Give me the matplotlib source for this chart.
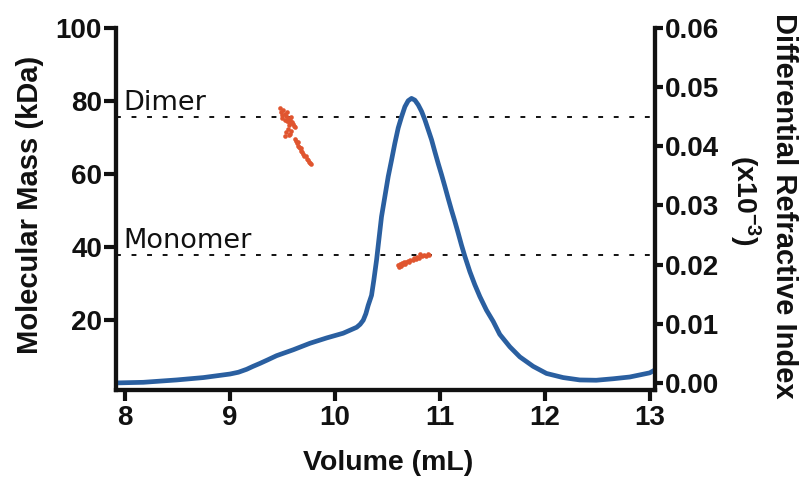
import matplotlib
matplotlib.use("Agg")
import matplotlib.pyplot as plt
from matplotlib.font_manager import FontProperties

# refractive index trace (right axis)
volume = [7.921, 8.174, 8.492, 8.746, 9.000, 9.080, 9.159, 9.220, 9.286, 9.360, 9.444,
          9.603, 9.762, 9.921, 10.079, 10.207, 10.240, 10.270, 10.295, 10.317, 10.349,
          10.371, 10.397, 10.422, 10.444, 10.476, 10.508, 10.540, 10.571, 10.603, 10.635,
          10.667, 10.698, 10.730, 10.762, 10.794, 10.826, 10.857, 10.889, 10.921, 10.952,
          10.984, 11.016, 11.048, 11.079, 11.111, 11.143, 11.175, 11.206, 11.238, 11.286,
          11.333, 11.381, 11.444, 11.508, 11.571, 11.667, 11.762, 11.889, 12.016, 12.175,
          12.333, 12.490, 12.651, 12.810, 12.905, 13.000, 13.080]
dri = [0.0000, 0.0001, 0.0005, 0.0009, 0.0015, 0.0018, 0.0023, 0.0028, 0.0033, 0.0039,
       0.0046, 0.0056, 0.0067, 0.0076, 0.0084, 0.0094, 0.0099, 0.0106, 0.0117, 0.0131,
       0.0148, 0.0174, 0.0208, 0.0247, 0.0281, 0.0315, 0.0349, 0.0377, 0.0405, 0.0431,
       0.0450, 0.0467, 0.0477, 0.0481, 0.0478, 0.0470, 0.0459, 0.0445, 0.0428, 0.0411,
       0.0391, 0.0371, 0.0352, 0.0332, 0.0312, 0.0292, 0.0273, 0.0253, 0.0233, 0.0214,
       0.0188, 0.0166, 0.0146, 0.0123, 0.0104, 0.0082, 0.0061, 0.0044, 0.0028, 0.0016,
       0.0009, 0.0005, 0.00045, 0.0007, 0.0010, 0.00135, 0.0017, 0.0025]

# MALS molecular mass points (left axis)
dimer_vol = [9.48, 9.49, 9.50, 9.50, 9.51, 9.52, 9.52, 9.53, 9.54, 9.54, 9.55, 9.56, 9.56,
             9.57, 9.58, 9.58, 9.59, 9.60, 9.61, 9.62, 9.53, 9.55, 9.57, 9.52, 9.56, 9.58,
             9.62, 9.63, 9.64, 9.65, 9.65, 9.66, 9.67, 9.68, 9.68, 9.69, 9.70, 9.71, 9.72,
             9.73, 9.74, 9.75, 9.76, 9.77]
dimer_mass = [78.0, 77.0, 76.2, 75.3, 77.5, 76.5, 74.8, 75.8, 74.6, 76.9, 75.2, 74.2, 73.4,
              74.8, 73.9, 75.5, 74.2, 73.6, 73.1, 72.8, 71.6, 72.4, 71.0, 70.4, 70.6, 71.8,
              69.7, 69.0, 68.6, 67.8, 68.8, 67.4, 67.0, 66.3, 67.2, 66.0, 65.6, 65.0, 64.8,
              64.2, 63.8, 63.4, 63.0, 62.6]
mono_vol = [10.60, 10.61, 10.62, 10.63, 10.64, 10.65, 10.66, 10.67, 10.68, 10.70, 10.71,
            10.72, 10.74, 10.75, 10.77, 10.78, 10.80, 10.81, 10.83, 10.85, 10.87, 10.89, 10.90]
mono_mass = [35.0, 34.4, 35.3, 34.8, 35.6, 35.2, 35.9, 35.4, 36.0, 36.2, 35.8, 36.5, 36.4,
             36.9, 36.6, 37.2, 37.0, 38.2, 37.4, 37.8, 37.6, 38.1, 37.9]

dimer_ref = 75.6
monomer_ref = 37.8

x_ticks = [8, 9, 10, 11, 12, 13]
left_ticks = [20, 40, 60, 80, 100]
right_ticks = [0.00, 0.01, 0.02, 0.03, 0.04, 0.05, 0.06]

plt.rcParams['mathtext.fontset'] = 'custom'
plt.rcParams['mathtext.bf'] = 'Liberation Sans:bold'
plt.rcParams['mathtext.rm'] = 'Liberation Sans:bold'

bold = dict(family='Liberation Sans', weight='bold')
black = '#111111'
blue = '#2a5fa0'
orange = '#e0552f'

fig = plt.figure(figsize=(8.03, 4.83), dpi=100)
ax = fig.add_axes([116/803, 1 - 390/483, (655-116)/803, (390-28)/483])
ax2 = ax.twinx()

ax.set_xlim(7.914, 13.05)
ax.set_ylim(0.8, 100)
ax2.set_ylim(-0.0012, 0.06)

# reference lines
for val, name, ty in [(dimer_ref, 'Dimer', 79.5), (monomer_ref, 'Monomer', 41.7)]:
    ax.axhline(val, color=black, lw=1.4, ls=(0, (2.5, 5.5)), zorder=1)
    ax.text(7.98, ty, name, family='DejaVu Sans', fontsize=19.5, color=black,
            ha='left', va='center')

ax.scatter(dimer_vol, dimer_mass, s=11, color=orange, zorder=3, linewidths=0)
ax.scatter(mono_vol, mono_mass, s=11, color=orange, zorder=3, linewidths=0)

ax2.plot(volume, dri, color=blue, lw=3.4, solid_capstyle='round',
         solid_joinstyle='round', zorder=2)

for a in (ax, ax2):
    a.spines['top'].set_visible(False)
    for s in a.spines.values():
        s.set_linewidth(3)
        s.set_color(black)

ax.set_xticks(x_ticks)
ax.set_yticks(left_ticks)
ax2.set_yticks(right_ticks)
ax2.set_yticklabels(['%.2f' % v for v in right_ticks])

ax.tick_params(axis='x', length=8, width=3, color=black, pad=3)
ax.tick_params(axis='y', length=9, width=3, color=black, pad=1)
ax2.tick_params(axis='y', length=6, width=3, color=black, pad=1)
tick_font = FontProperties(**bold, size=20)
for lab in ax.get_xticklabels() + ax.get_yticklabels() + ax2.get_yticklabels():
    lab.set_fontproperties(tick_font)
    lab.set_color(black)

fig.text(388/803, 1 - 463/483, 'Volume (mL)', fontsize=20.5, ha='center', va='center',
         color=black, **bold)
fig.text(30/803, 1 - 205/483, 'Molecular Mass (kDa)', fontsize=21, rotation=90,
         ha='center', va='center', color=black, **bold)
fig.text(784/803, 1 - 206/483, 'Differential Refractive Index', fontsize=21,
         rotation=270, ha='center', va='center', color=black, **bold)
fig.text(745/803, 1 - 200/483, r'$\mathbf{(x10^{-3})}$', fontsize=20.5,
         rotation=270, ha='center', va='center', color=black)

fig.savefig('out.png', dpi=100)
